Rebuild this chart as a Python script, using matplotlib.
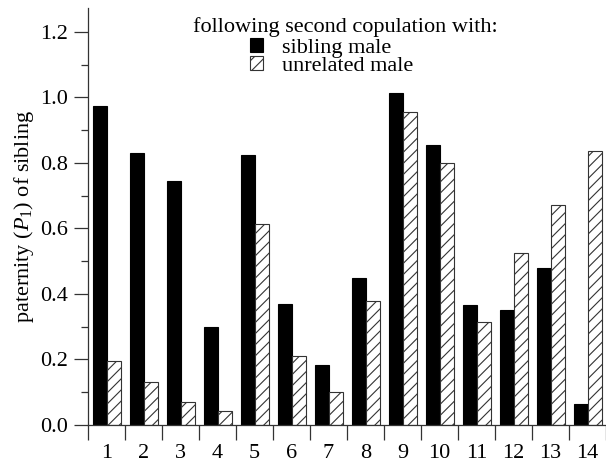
import numpy as np
import matplotlib
matplotlib.use("Agg")
import matplotlib.pyplot as plt
from matplotlib.ticker import MultipleLocator, FixedLocator

# paternity values
groups = list(range(1, 15))
sibling = [0.975, 0.830, 0.745, 0.300, 0.825, 0.370, 0.182, 0.450, 1.012, 0.856, 0.367, 0.352, 0.480, 0.064]
unrelated = [0.196, 0.131, 0.069, 0.044, 0.614, 0.211, 0.100, 0.379, 0.956, 0.801, 0.315, 0.525, 0.671, 0.836]

plt.rcParams['font.family'] = ['Liberation Serif', 'DejaVu Serif']
plt.rcParams['mathtext.fontset'] = 'custom'
plt.rcParams['mathtext.rm'] = 'Liberation Serif'
plt.rcParams['mathtext.it'] = 'Liberation Serif:italic'
plt.rcParams['hatch.linewidth'] = 0.8

fs = 16
fig = plt.figure(figsize=(6.06, 4.67), dpi=100)
ax = fig.add_axes([0.145, 0.09, 0.855, 0.893])

x = np.arange(len(groups))
w = 0.38
ax.bar(x + 0.32, sibling, width=w, color='black', edgecolor='black', linewidth=0.8,
       label='sibling male')
ax.bar(x + 0.70, unrelated, width=w, color='white', edgecolor='#333333', linewidth=0.8,
       hatch='///', label='unrelated male')

ax.set_xlim(0, 14)
ax.set_ylim(0, 1.273)

# group labels at centres, tick marks at group boundaries
ax.xaxis.set_major_locator(FixedLocator(x + 0.5))
ax.set_xticklabels([str(g) for g in groups], fontsize=fs)
ax.xaxis.set_minor_locator(FixedLocator(np.arange(0, 15)))
ax.tick_params(axis='x', which='major', length=0, pad=14)
ax.tick_params(axis='x', which='minor', length=11, width=0.9, direction='out', color='#333333')

ax.set_yticks(np.arange(0, 1.21, 0.2))
ax.set_yticklabels([f'{v:.1f}' for v in np.arange(0, 1.21, 0.2)], fontsize=fs)
ax.yaxis.set_minor_locator(MultipleLocator(0.1))
ax.tick_params(axis='y', which='major', length=10, width=0.9, color='#333333', pad=4)
ax.tick_params(axis='y', which='minor', length=5, width=0.9, color='#333333')

for s in ['top', 'right']:
    ax.spines[s].set_visible(False)
for s in ['left', 'bottom']:
    ax.spines[s].set_color('#333333')
    ax.spines[s].set_linewidth(0.9)

ax.set_ylabel(r'paternity ($P_1$) of sibling', fontsize=fs)
ax.yaxis.set_label_coords(-0.10, 0.5)

# legend title as a separate text so the entries can sit left of centre
ax.text(0.496, 0.954, 'following second copulation with:', transform=ax.transAxes,
        ha='center', va='center', fontsize=fs)
ax.legend(loc='upper left', bbox_to_anchor=(0.312, 0.928), frameon=False, fontsize=fs,
          handlelength=0.6, handleheight=0.6, handletextpad=0.85,
          labelspacing=-0.1, borderpad=0, borderaxespad=0)

fig.savefig('out.png', dpi=100)
